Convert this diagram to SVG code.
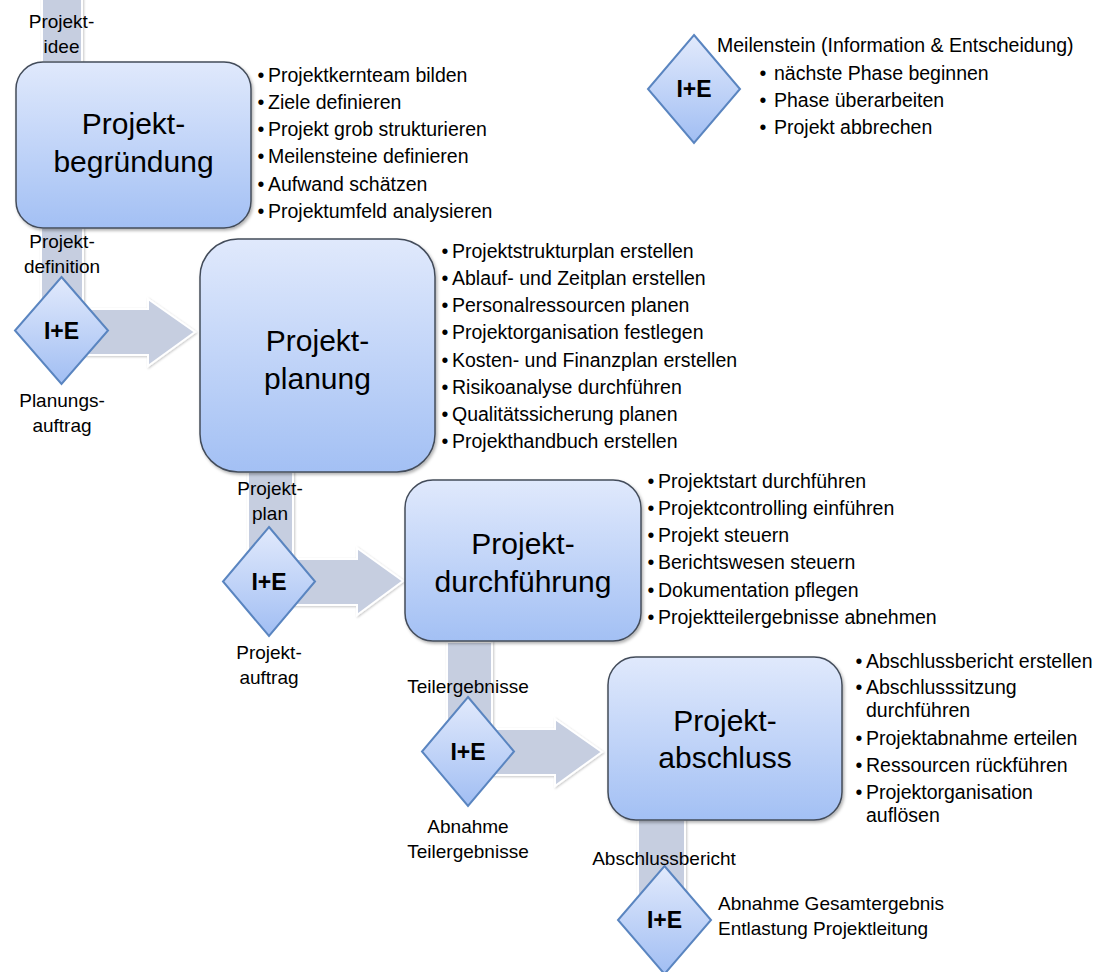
<svg xmlns="http://www.w3.org/2000/svg" width="1107" height="972" viewBox="0 0 1107 972">
  <defs>
    <linearGradient id="boxFill" x1="0" y1="0" x2="0" y2="1">
      <stop offset="0" stop-color="#e0e9fc"/>
      <stop offset="1" stop-color="#a3c0f4"/>
    </linearGradient>
    <linearGradient id="diaFill" x1="0" y1="0" x2="0" y2="1">
      <stop offset="0" stop-color="#e2eafc"/>
      <stop offset="1" stop-color="#a1bef3"/>
    </linearGradient>
    <filter id="shadow" x="-10%" y="-10%" width="125%" height="125%">
      <feDropShadow dx="1.5" dy="2" stdDeviation="1.5" flood-color="#000" flood-opacity="0.3"/>
    </filter>
    <filter id="soft" x="-10%" y="-10%" width="125%" height="125%">
      <feDropShadow dx="1" dy="1" stdDeviation="1.2" flood-color="#000" flood-opacity="0.22"/>
    </filter>
  </defs>
  <style>
    text { font-family: "Liberation Sans", Arial, sans-serif; fill: #000; }
    .phase { fill: url(#boxFill); stroke: #434c5a; stroke-width: 1.5; filter: url(#shadow); }
    .title { font-size: 30px; text-anchor: middle; }
    .gate { fill: url(#diaFill); stroke: #5a85c0; stroke-width: 2; }
    .gate-label { font-size: 23px; font-weight: bold; text-anchor: middle; }
    .item { font-size: 19.5px; }
    .label { font-size: 19px; text-anchor: middle; }
    .note { font-size: 19px; text-anchor: start; }
    .flow { fill: #c6cee0; stroke: #ffffff; stroke-width: 2; filter: url(#soft); }
  </style>

  <rect width="1107" height="972" fill="#ffffff"/>

  <!-- broad flow arrows between the phases -->
  <g id="connectors">
    <rect class="flow" x="42" y="-4" width="40" height="66"/>
    <path class="flow" d="M41,228 H83 V309 H148 V299 L195,332 L148,366 V355 H41 Z"/>
    <path class="flow" d="M248,472 H293 V559 H357 V548 L403,581 L357,615 V605 H248 Z"/>
    <path class="flow" d="M447,642 H492 V729 H555 V719 L602,752 L555,786 V775 H447 Z"/>
    <rect class="flow" x="638" y="820" width="47" height="100"/>
  </g>

  <!-- phase 1 -->
  <g id="phase-begruendung">
    <rect class="phase" x="16" y="62" width="235" height="166" rx="27"/>
    <text class="title" x="133.5" y="134">Projekt-</text>
    <text class="title" x="133.5" y="172">begründung</text>
    <text class="item" y="82"><tspan x="257.5">•</tspan><tspan x="268">Projektkernteam bilden</tspan></text>
    <text class="item" y="109"><tspan x="257.5">•</tspan><tspan x="268">Ziele definieren</tspan></text>
    <text class="item" y="136"><tspan x="257.5">•</tspan><tspan x="268">Projekt grob strukturieren</tspan></text>
    <text class="item" y="163"><tspan x="257.5">•</tspan><tspan x="268">Meilensteine definieren</tspan></text>
    <text class="item" y="191"><tspan x="257.5">•</tspan><tspan x="268">Aufwand schätzen</tspan></text>
    <text class="item" y="218"><tspan x="257.5">•</tspan><tspan x="268">Projektumfeld analysieren</tspan></text>
  </g>

  <!-- phase 2 -->
  <g id="phase-planung">
    <rect class="phase" x="200" y="239" width="235" height="233" rx="38"/>
    <text class="title" x="317.5" y="351">Projekt-</text>
    <text class="title" x="317.5" y="389">planung</text>
    <text class="item" y="258"><tspan x="441.5">•</tspan><tspan x="452">Projektstrukturplan erstellen</tspan></text>
    <text class="item" y="285"><tspan x="441.5">•</tspan><tspan x="452">Ablauf- und Zeitplan erstellen</tspan></text>
    <text class="item" y="312"><tspan x="441.5">•</tspan><tspan x="452">Personalressourcen planen</tspan></text>
    <text class="item" y="339"><tspan x="441.5">•</tspan><tspan x="452">Projektorganisation festlegen</tspan></text>
    <text class="item" y="367"><tspan x="441.5">•</tspan><tspan x="452">Kosten- und Finanzplan erstellen</tspan></text>
    <text class="item" y="394"><tspan x="441.5">•</tspan><tspan x="452">Risikoanalyse durchführen</tspan></text>
    <text class="item" y="421"><tspan x="441.5">•</tspan><tspan x="452">Qualitätssicherung planen</tspan></text>
    <text class="item" y="448"><tspan x="441.5">•</tspan><tspan x="452">Projekthandbuch erstellen</tspan></text>
  </g>

  <!-- phase 3 -->
  <g id="phase-durchfuehrung">
    <rect class="phase" x="405" y="480" width="236" height="161" rx="28"/>
    <text class="title" x="523" y="554">Projekt-</text>
    <text class="title" x="523" y="592">durchführung</text>
    <text class="item" y="488"><tspan x="647.5">•</tspan><tspan x="658">Projektstart durchführen</tspan></text>
    <text class="item" y="515"><tspan x="647.5">•</tspan><tspan x="658">Projektcontrolling einführen</tspan></text>
    <text class="item" y="542"><tspan x="647.5">•</tspan><tspan x="658">Projekt steuern</tspan></text>
    <text class="item" y="569"><tspan x="647.5">•</tspan><tspan x="658">Berichtswesen steuern</tspan></text>
    <text class="item" y="597"><tspan x="647.5">•</tspan><tspan x="658">Dokumentation pflegen</tspan></text>
    <text class="item" y="624"><tspan x="647.5">•</tspan><tspan x="658">Projektteilergebnisse abnehmen</tspan></text>
  </g>

  <!-- phase 4 -->
  <g id="phase-abschluss">
    <rect class="phase" x="608" y="657" width="234" height="163" rx="28"/>
    <text class="title" x="725" y="731">Projekt-</text>
    <text class="title" x="725" y="768">abschluss</text>
    <text class="item" y="668"><tspan x="855.5">•</tspan><tspan x="866">Abschlussbericht erstellen</tspan></text>
    <text class="item" y="694"><tspan x="855.5">•</tspan><tspan x="866">Abschlusssitzung</tspan></text>
    <text class="item" x="866" y="717">durchführen</text>
    <text class="item" y="745"><tspan x="855.5">•</tspan><tspan x="866">Projektabnahme erteilen</tspan></text>
    <text class="item" y="772"><tspan x="855.5">•</tspan><tspan x="866">Ressourcen rückführen</tspan></text>
    <text class="item" y="799"><tspan x="855.5">•</tspan><tspan x="866">Projektorganisation</tspan></text>
    <text class="item" x="866" y="822">auflösen</text>
  </g>

  <!-- milestones (information & decision) -->
  <g id="gate-1">
    <path class="gate" d="M61.5,277 L108,330.5 L61.5,384 L15,330.5 Z"/>
    <text class="gate-label" x="61.5" y="338.5">I+E</text>
  </g>
  <g id="gate-2">
    <path class="gate" d="M269,527 L315,581.5 L269,636 L223,581.5 Z"/>
    <text class="gate-label" x="269" y="589.5">I+E</text>
  </g>
  <g id="gate-3">
    <path class="gate" d="M468,697 L514,751.5 L468,806 L422,751.5 Z"/>
    <text class="gate-label" x="468" y="759.5">I+E</text>
  </g>
  <g id="gate-4">
    <path class="gate" d="M664.5,866 L711,920 L664.5,974 L618,920 Z"/>
    <text class="gate-label" x="664.5" y="928">I+E</text>
  </g>

  <!-- flow labels -->
  <g id="labels">
    <text class="label" x="61.5" y="28">Projekt-</text>
    <text class="label" x="61.5" y="53">idee</text>
    <text class="label" x="62" y="248">Projekt-</text>
    <text class="label" x="62" y="273">definition</text>
    <text class="label" x="62" y="407">Planungs-</text>
    <text class="label" x="62" y="432">auftrag</text>
    <text class="label" x="270" y="495">Projekt-</text>
    <text class="label" x="270" y="520">plan</text>
    <text class="label" x="269" y="659">Projekt-</text>
    <text class="label" x="269" y="684">auftrag</text>
    <text class="label" x="468" y="693">Teilergebnisse</text>
    <text class="label" x="468" y="833">Abnahme</text>
    <text class="label" x="468" y="858">Teilergebnisse</text>
    <text class="label" x="664" y="865">Abschlussbericht</text>
    <text class="note" x="718" y="910">Abnahme Gesamtergebnis</text>
    <text class="note" x="718" y="935">Entlastung Projektleitung</text>
  </g>

  <!-- legend -->
  <g id="legend">
    <path class="gate" d="M694,35 L740,89 L694,143 L648,89 Z"/>
    <text class="gate-label" x="694" y="97">I+E</text>
    <text class="item" x="717" y="52">Meilenstein (Information &amp; Entscheidung)</text>
    <text class="item" y="80"><tspan x="759.5">•</tspan><tspan x="774">nächste Phase beginnen</tspan></text>
    <text class="item" y="107"><tspan x="759.5">•</tspan><tspan x="774">Phase überarbeiten</tspan></text>
    <text class="item" y="134"><tspan x="759.5">•</tspan><tspan x="774">Projekt abbrechen</tspan></text>
  </g>
</svg>
